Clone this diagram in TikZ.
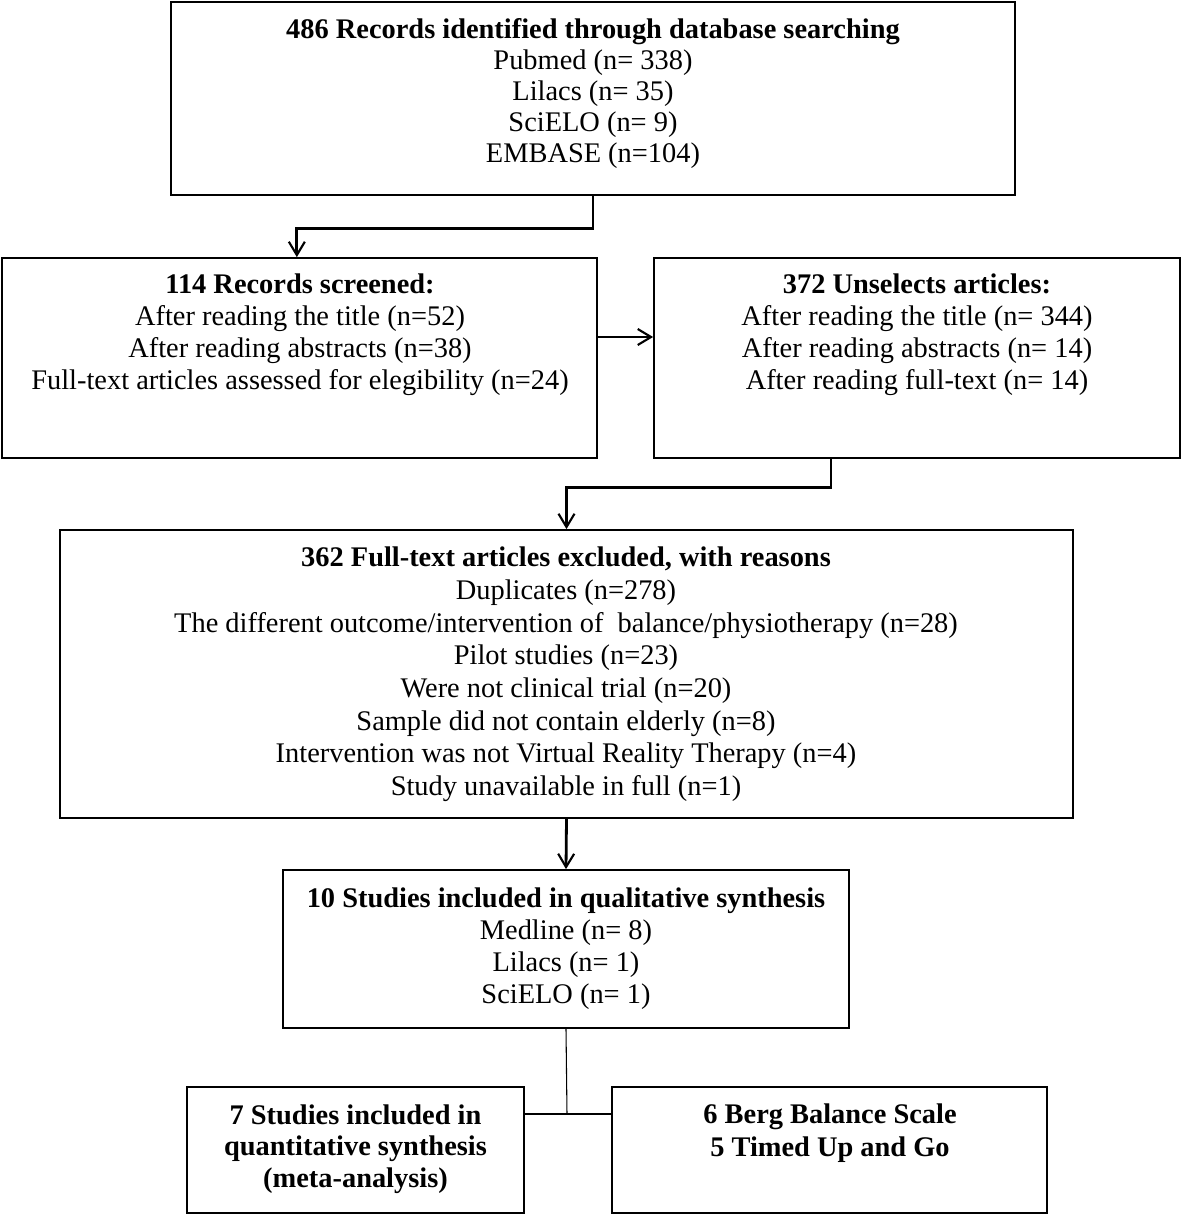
\documentclass[tikz,border=0pt]{standalone}
\usepackage{fontspec}
\setmainfont{Liberation Serif}
\usetikzlibrary{arrows.meta}
\begin{document}
\begin{tikzpicture}[x=0.75pt,y=-0.75pt,
  box/.style={draw=black, line width=1.3pt, inner sep=0pt},
  txt/.style={align=center, inner sep=0pt, font=\fontsize{21.3}{24}\selectfont},
  conn/.style={line width=2.1pt, -{Straight Barb[length=10pt,width=12pt,line width=1.6pt]}},
  thinline/.style={line width=0.8pt},
  thickline/.style={line width=2.1pt}]
\useasboundingbox (0,0) rectangle (1181,1215);
\fill[white] (0,0) rectangle (1181,1215);
% boxes
\node[box, minimum width=633pt, minimum height=144.75pt] (b1) at (593,98.5) {};
\node[box, minimum width=446.25pt, minimum height=150pt] (b2) at (299.5,358) {};
\node[box, minimum width=394.5pt, minimum height=150pt] (b3) at (917,358) {};
\node[box, minimum width=759.75pt, minimum height=216pt] (b4) at (566.5,674) {};
\node[box, minimum width=424.5pt, minimum height=118.5pt] (b5) at (566,949) {};
\node[box, minimum width=252.75pt, minimum height=94.5pt] (b6) at (355.5,1150) {};
\node[box, minimum width=326.25pt, minimum height=94.5pt] (b7) at (829.5,1150) {};
% texts
\node[txt, font=\fontsize{21.3}{23.25}\selectfont] (t1) at (593,93.5) {\textbf{486 Records identified through database searching}\\Pubmed (n= 338)\\Lilacs (n= 35)\\SciELO (n= 9)\\EMBASE (n=104)};
\node[txt] (t2) at (300,335) {\textbf{114 Records screened:}\\After reading the title (n=52)\\After reading abstracts (n=38)\\Full-text articles assessed for elegibility (n=24)};
\node[txt] (t3) at (917,335) {\textbf{372 Unselects articles:}\\After reading the title (n= 344)\\After reading abstracts (n= 14)\\After reading full-text (n= 14)};
\node[txt, font=\fontsize{21.3}{24.5}\selectfont] (t4) at (566,674.5) {\textbf{362 Full-text articles excluded, with reasons}\\Duplicates (n=278)\\The different outcome/intervention of\ \ balance/physiotherapy (n=28)\\Pilot studies (n=23)\\Were not clinical trial (n=20)\\Sample did not contain elderly (n=8)\\Intervention was not Virtual Reality Therapy (n=4)\\Study unavailable in full (n=1)};
\node[txt] (t5) at (566,949) {\textbf{10 Studies included in qualitative synthesis}\\Medline (n= 8)\\Lilacs (n= 1)\\SciELO (n= 1)};
\node[txt, font=\fontsize{21.3}{23.5}\selectfont\bfseries] (t6) at (355.5,1149) {7 Studies included in\\quantitative synthesis\\(meta-analysis)};
\node[txt, font=\fontsize{21.3}{24.5}\selectfont\bfseries] (t7) at (830,1133) {6 Berg Balance Scale\\5 Timed Up and Go};
% connectors
\draw[conn] (b1.south) -- ++(0,33) -| ([xshift=-2pt]b2.north);
\draw[conn] ([yshift=15.75pt]b2.east) -- ([yshift=15.75pt]b3.west);
\draw[conn] ([xshift=-64.5pt]b3.south) -- ++(0,29) -| (b4.north);
\draw[conn] (b4.south) -- (b5.north);
\coordinate (j) at (567,1114);
\draw[thinline] (b5.south) -- (j);
\draw[thickline] ([yshift=27pt]b6.east) -- ([yshift=27pt]b7.west);
\end{tikzpicture}
\end{document}
